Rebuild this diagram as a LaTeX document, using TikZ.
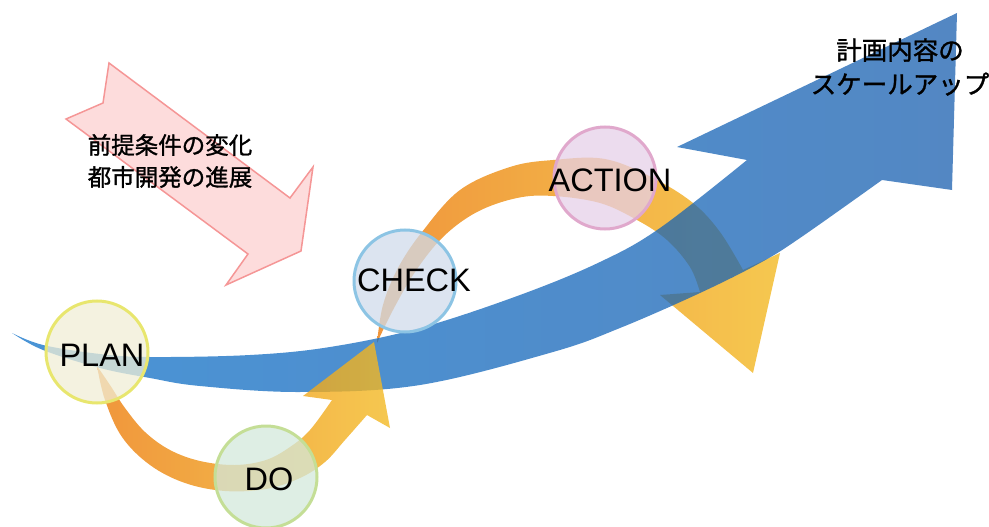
\documentclass[tikz,border=0pt]{standalone}
\usepackage{fontspec}
\setmainfont{Liberation Sans}
\newfontfamily\jpfont[FakeBold=1.2]{Noto Sans CJK JP}
\usetikzlibrary{calc}
\definecolor{bluL}{RGB}{13,112,200}
\definecolor{bluR}{RGB}{25,95,175}
\definecolor{orng}{RGB}{236,124,11}
\definecolor{orngmid}{RGB}{240,145,22}
\definecolor{yllw}{RGB}{243,186,36}
\definecolor{pinkfill}{RGB}{253,220,220}
\definecolor{pinkline}{RGB}{245,150,150}
\definecolor{planfill}{RGB}{240,238,214}
\definecolor{planline}{RGB}{232,230,110}
\definecolor{dofill}{RGB}{211,232,219}
\definecolor{doline}{RGB}{196,222,150}
\definecolor{checkfill}{RGB}{208,219,235}
\definecolor{checkline}{RGB}{140,196,228}
\definecolor{actfill}{RGB}{230,208,232}
\definecolor{actline}{RGB}{224,168,204}
\tikzset{
  bandblue/.style={left color=bluL, right color=bluR, opacity=0.75},
  bandarc/.style={left color=orng, middle color=orngmid, right color=yllw, opacity=0.8},
  pinkarrow/.style={fill=pinkfill, draw=pinkline, line width=1.5pt, line join=miter},
  circ/.style={circle, minimum size=102pt, inner sep=0pt, line width=3pt, fill opacity=0.75, draw opacity=1},
  lbl/.style={font=\fontsize{32.5}{36}\selectfont, inner sep=0pt, text=black},
  jptxtL/.style={font=\jpfont\fontsize{23.5}{32}\selectfont, align=center, inner sep=0pt},
  jptxtR/.style={font=\jpfont\fontsize{25.5}{34}\selectfont, align=center, inner sep=0pt}
}
\begin{document}
\begin{tikzpicture}[x=1pt,y=-1pt]
\useasboundingbox (0,0) rectangle (989,527);

% pink arrow
\draw[pinkarrow] (109,63) -- (103,103) -- (66,119) -- (248,254) -- (226,285) -- (301,251) -- (313,167) -- (290,198) -- cycle;

% arc CHECK -> ACTION -> down (under the blue arrow)
\shade[bandarc]
  plot[smooth,tension=0.6] coordinates {(377,343) (383,305) (398,268) (422,232) (460,190) (510,167) (553,160) (605,159) (653,178) (693,203) (720,232) (743,270)}
  -- (780,253) -- (753,373) -- (660,295)
  -- plot[smooth,tension=0.6] coordinates {(700,292) (690,267) (667,240) (637,220) (600,203) (553,196) (517,198) (477,212) (443,237) (415,272) (393,310) (377,343)}
  -- cycle;

% blue arrow
\shade[bandblue]
  plot[smooth,tension=0.6] coordinates {(12,333) (43,345) (100,354) (150,357) (250,355) (330,347) (420,328) (520,295) (600,262) (660,228) (747,160)}
  -- (677,147) -- (957,13) -- (952,190)
  -- plot[smooth,tension=0.6] coordinates {(882,180) (800,238) (760,263) (700,293) (620,328) (553,352) (420,385) (300,392) (200,386) (150,378) (100,368) (43,350) (12,333)}
  -- cycle;

% arc PLAN -> DO -> CHECK (over the blue arrow)
\shade[bandarc]
  plot[smooth,tension=0.6] coordinates {(97,366) (105,400) (122,437) (150,465) (185,483) (225,491) (266,489) (300,478) (325,462) (345,440) (367,415)}
  -- (390,428) -- (374,342) -- (303,396)
  -- plot[smooth,tension=0.6] coordinates {(332,400) (310,430) (290,447) (266,460) (235,465) (200,461) (170,450) (145,432) (125,408) (110,385) (97,366)}
  -- cycle;

% circles
\node[circ, fill=planfill, draw=planline] (plan) at (97,352) {};
\node[circ, fill=dofill, draw=doline] (do) at (266,477) {};
\node[circ, fill=checkfill, draw=checkline] (check) at (405,281) {};
\node[circ, fill=actfill, draw=actline] (action) at (605,178) {};

\node[lbl] (plant) at ($(plan)+(5,3)$) {PLAN};
\node[lbl] (dot) at ($(do)+(3,2)$) {DO};
\node[lbl] (checkt) at ($(check)+(9,-1)$) {CHECK};
\node[lbl] (actiont) at ($(action)+(5,2)$) {ACTION};

% texts
\node[jptxtL] (premise) at (170,161) {前提条件の変化\\都市開発の進展};
\node[jptxtR] (scale) at (900,67) {計画内容の\\スケールアップ};
\end{tikzpicture}
\end{document}
